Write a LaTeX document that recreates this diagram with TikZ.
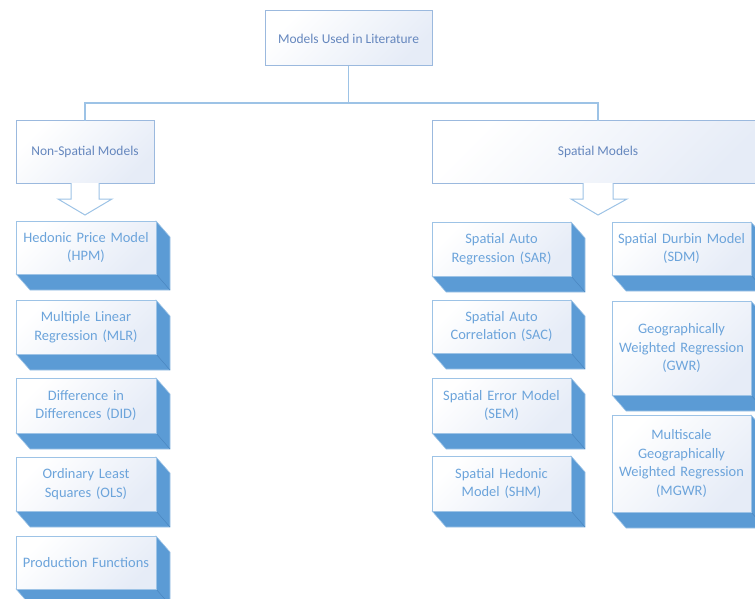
\documentclass[tikz,border=0pt]{standalone}
\usepackage{fontspec}
\setmainfont{Carlito}
\usetikzlibrary{backgrounds,calc}
\definecolor{edge}{HTML}{9DC3E6}
\definecolor{topedge}{HTML}{9BB9DE}
\definecolor{depth}{HTML}{5B9BD5}
\definecolor{depthline}{HTML}{4A86C0}
\definecolor{facefill}{HTML}{E6ECF7}
\definecolor{toptext}{HTML}{6587BE}
\definecolor{lowtext}{HTML}{6CA4DB}
\tikzset{
  x=1bp, y=-1bp,
  headbox/.style={draw=topedge, line width=1bp, shading=axis, top color=white,
    bottom color=facefill, shading angle=45, anchor=north west, inner sep=2bp,
    outer sep=0pt, align=center, text=toptext, font=\fontsize{13.5}{16}\selectfont},
  modelbox/.style={draw=edge, line width=1bp, shading=axis, top color=white,
    bottom color=facefill, shading angle=45, anchor=north west, inner sep=2bp,
    outer sep=0pt, align=center, text=lowtext, font=\fontsize{14.5}{19}\selectfont},
  link/.style={draw=edge, line width=1.5bp},
  blockarrow/.style={draw=edge, line width=1bp, fill=white, line join=miter},
  extrusion/.style={fill=depth, draw=edge, line width=0.6bp, line join=miter}
}
\newcommand{\mybox}[7]{%
  \node[modelbox, minimum width=#4bp, minimum height=#5bp, text width=#6bp] (#1) at (#2,#3) {#7};}
\begin{document}
\begin{tikzpicture}
\useasboundingbox (0,0) rectangle (755,599);
\clip (0,0) rectangle (755,599);

% top level
\node[headbox, minimum width=167bp, minimum height=55bp] (top) at (265,11) {Models Used in Literature};
\node[headbox, minimum width=138bp, minimum height=62bp] (nonsp) at (16,121) {Non-Spatial Models};
\node[headbox, minimum width=332bp, minimum height=62bp] (sp) at (432,121) {Spatial Models};

\coordinate (split) at ($(top.south)+(0,37)$);
\draw[link] (top.south) -- (split);
\draw[link] (split) -| (nonsp.north);
\draw[link] (split) -| (sp.north);

% block arrows
\draw[blockarrow] ($(nonsp.south)+(-14,0)$) -- ++(0,16) -- ++(-13,0) -- ($(nonsp.south)+(0,32)$)
  -- ($(nonsp.south)+(27,16)$) -- ++(-13,0) -- ($(nonsp.south)+(14,0)$);
\draw[blockarrow] ($(sp.south)+(-15,0)$) -- ++(0,16) -- ++(-12,0) -- ($(sp.south)+(0,32)$)
  -- ($(sp.south)+(29,16)$) -- ++(-14,0) -- ($(sp.south)+(15,0)$);

% non-spatial models
\mybox{hpm}{16}{221}{138}{53}{136}{Hedonic Price Model\\(HPM)}
\mybox{mlr}{16}{300}{138}{54}{136}{Multiple Linear\\Regression (MLR)}
\mybox{did}{16}{378}{138}{55}{136}{Difference in\\Differences (DID)}
\mybox{ols}{16}{457}{138}{54}{136}{Ordinary Least\\Squares (OLS)}
\mybox{pf}{16}{536}{138}{53}{136}{Production Functions}

% spatial models, first column
\mybox{sar}{432}{222}{137}{54}{135}{Spatial Auto\\Regression (SAR)}
\mybox{sac}{432}{300}{137}{53}{135}{Spatial Auto\\Correlation (SAC)}
\mybox{sem}{432}{378}{137}{55}{135}{Spatial Error Model\\(SEM)}
\mybox{shm}{432}{456}{137}{55}{135}{Spatial Hedonic\\Model (SHM)}

% spatial models, second column
\mybox{sdm}{612}{222}{137}{53}{135}{Spatial Durbin Model\\(SDM)}
\mybox{gwr}{612}{301}{137}{94}{135}{Geographically\\Weighted Regression\\(GWR)}
\mybox{mgwr}{612}{415}{137}{97}{135}{Multiscale\\Geographically\\Weighted Regression\\(MGWR)}

% 3-D depth of the model boxes
\begin{scope}[on background layer]
\foreach \n in {hpm,mlr,did,ols,pf,sar,sac,sem,shm,sdm,gwr,mgwr}{
  \path[extrusion] (\n.north east) -- ($(\n.north east)+(14,16)$)
    -- ($(\n.south east)+(14,16)$) -- ($(\n.south west)+(14,16)$)
    -- (\n.south west) -- cycle;
  \draw[depthline, line width=0.5bp] (\n.south east) -- ($(\n.south east)+(14,16)$);
}
\end{scope}
\end{tikzpicture}
\end{document}
